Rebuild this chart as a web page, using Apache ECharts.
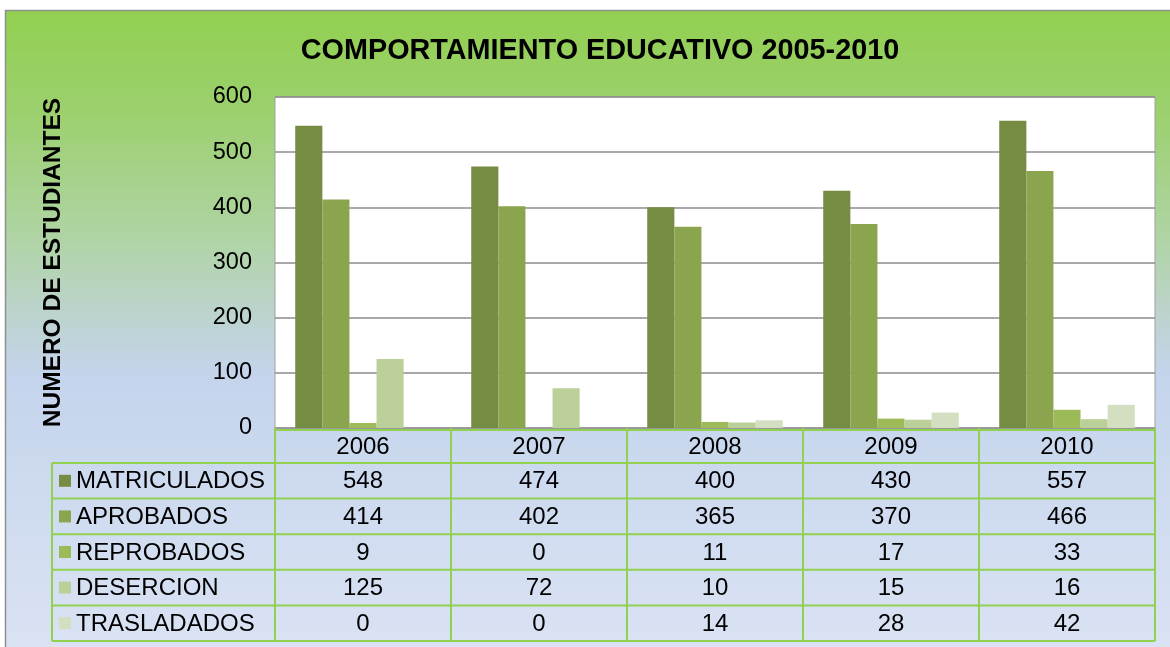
<!DOCTYPE html>
<html>
<head>
<meta charset="utf-8">
<script src="https://cdn.jsdelivr.net/npm/echarts@6/dist/echarts.min.js"></script>
<style>
  html, body { margin: 0; padding: 0; background: #fff; }
  #chart { width: 1170px; height: 647px; }
</style>
</head>
<body>
<div id="chart"></div>
<script>
// data
const years = ["2006", "2007", "2008", "2009", "2010"];
const seriesNames = ["MATRICULADOS", "APROBADOS", "REPROBADOS", "DESERCION", "TRASLADADOS"];
const matriculados = [548, 474, 400, 430, 557];
const aprobados = [414, 402, 365, 370, 466];
const reprobados = [9, 0, 11, 17, 33];
const desercion = [125, 72, 10, 15, 16];
const trasladados = [0, 0, 14, 28, 42];
const yTicks = [0, 100, 200, 300, 400, 500, 600];

const allValues = [matriculados, aprobados, reprobados, desercion, trasladados];
const colors = ["#778c43", "#8ba54e", "#9cbb58", "#bbcf98", "#d3dfc0"];

// layout
const GRID = {left: 275, right: 15, top: 97, bottom: 219};
const TABLE_LEFT = 52;
const HEAD_TOP = 430, HEAD_BOTTOM = 463, ROW_H = 35.6;
const LINE_GREEN = "#92d050";
const FONT = "'Liberation Sans', Arial, sans-serif";

const chart = echarts.init(document.getElementById("chart"));

chart.setOption({
  animation: false,
  backgroundColor: "#fff",
  title: {
    text: "COMPORTAMIENTO EDUCATIVO 2005-2010",
    left: 595,
    top: 32,
    textAlign: "center",
    textStyle: {fontFamily: FONT, fontSize: 28.8, fontWeight: "bold", color: "#000"}
  },
  grid: {
    left: GRID.left, right: GRID.right, top: GRID.top, bottom: GRID.bottom,
    show: true, backgroundColor: "#fff", borderColor: "#a0a0a0", borderWidth: 1
  },
  xAxis: {
    type: "category",
    data: years,
    axisLine: {show: false},
    axisTick: {show: false},
    axisLabel: {show: false}
  },
  yAxis: {
    type: "value",
    min: yTicks[0],
    max: yTicks[yTicks.length - 1],
    interval: 100,
    name: "NUMERO DE ESTUDIANTES",
    nameLocation: "middle",
    nameRotate: 90,
    nameGap: 209,
    nameTextStyle: {fontFamily: FONT, fontSize: 24.5, fontWeight: "bold", color: "#000"},
    axisLine: {show: false},
    axisTick: {show: false},
    axisLabel: {fontFamily: FONT, fontSize: 23.5, color: "#000", margin: 23},
    splitLine: {lineStyle: {color: "#8c8c8c", width: 1.6}}
  },
  series: seriesNames.map((name, i) => ({
    name: name,
    type: "bar",
    data: allValues[i],
    barGap: "0%",
    barCategoryGap: "23%",
    itemStyle: {color: colors[i]}
  }))
});

// background panel + data table, positioned from the axis
function buildGraphics() {
  const els = [];
  els.push({
    type: "rect", z: -10, silent: true,
    shape: {x: 5.5, y: 10.5, width: 1200, height: 700},
    style: {
      fill: new echarts.graphic.LinearGradient(0, 0, 0, 1, [
        {offset: 0, color: "#92d050"},
        {offset: 0.15, color: "#9cd06f"},
        {offset: 0.33, color: "#b0d4a6"},
        {offset: 0.43, color: "#bcd3cc"},
        {offset: 0.52, color: "#c4d4ec"},
        {offset: 1, color: "#dfe6f5"}
      ]),
      stroke: "#8f8f8f", lineWidth: 1.5
    }
  });

  const gridW = chart.getWidth() - GRID.left - GRID.right;
  const band = gridW / years.length;
  const colEdges = [];
  for (let i = 0; i <= years.length; i++) {
    const c = chart.convertToPixel({xAxisIndex: 0}, Math.min(i, years.length - 1));
    colEdges.push(i < years.length ? c - band / 2 : c + band / 2);
  }
  const right = colEdges[colEdges.length - 1];
  const rowEdges = [HEAD_BOTTOM];
  for (let r = 1; r <= seriesNames.length; r++) rowEdges.push(HEAD_BOTTOM + r * ROW_H);
  const bottom = rowEdges[rowEdges.length - 1];

  const line = (x1, y1, x2, y2) => ({
    type: "line", z: 50, silent: true,
    shape: {x1: x1, y1: y1, x2: x2, y2: y2},
    style: {stroke: LINE_GREEN, lineWidth: 2}
  });
  const txt = (x, y, s, align) => ({
    type: "text", z: 60, silent: true, x: x, y: y,
    style: {text: s, fontFamily: FONT, fontSize: 24, fill: "#000", align: align, verticalAlign: "middle"}
  });

  // header row
  els.push(line(colEdges[0], HEAD_TOP, right, HEAD_TOP));
  colEdges.forEach(x => els.push(line(x, chart.getHeight() - GRID.bottom, x, bottom)));
  years.forEach((y, i) => els.push(txt((colEdges[i] + colEdges[i + 1]) / 2, (HEAD_TOP + HEAD_BOTTOM) / 2 + 1, y, "center")));

  // body rows
  rowEdges.forEach(y => els.push(line(TABLE_LEFT, y, right, y)));
  els.push(line(TABLE_LEFT, HEAD_BOTTOM, TABLE_LEFT, bottom));
  seriesNames.forEach((name, r) => {
    const cy = (rowEdges[r] + rowEdges[r + 1]) / 2;
    els.push({
      type: "rect", z: 60, silent: true,
      shape: {x: 59, y: cy - 6, width: 12, height: 12},
      style: {fill: colors[r]}
    });
    els.push(txt(76, cy + 1, name, "left"));
    allValues[r].forEach((v, i) => els.push(txt((colEdges[i] + colEdges[i + 1]) / 2, cy + 1, String(v), "center")));
  });

  chart.setOption({graphic: {elements: els}});
}
buildGraphics();
</script>
</body>
</html>
